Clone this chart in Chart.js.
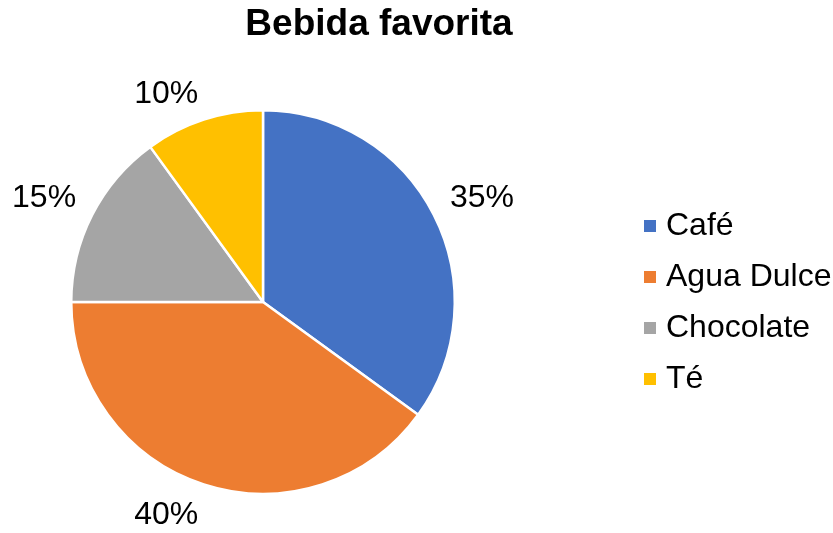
<!DOCTYPE html>
<html>
<head>
<meta charset="utf-8">
<script src="https://cdn.jsdelivr.net/npm/chart.js@4"></script>
<style>
  html, body { margin: 0; padding: 0; background: #fff; }
  #wrap { width: 833px; height: 533px; }
</style>
</head>
<body>
<div id="wrap"><canvas id="c"></canvas></div>
<script>
const chartTitle = "Bebida favorita";
const categories = ["Café", "Agua Dulce", "Chocolate", "Té"];
const values = [35, 40, 15, 10];
const colors = ["#4472C4", "#ED7D31", "#A5A5A5", "#FFC000"];

const FONT = "'Liberation Sans', Arial, sans-serif";

// title, outside labels and legend
const extras = {
  id: "extras",
  afterDraw(chart) {
    const ctx = chart.ctx;
    const meta = chart.getDatasetMeta(0);
    const total = values.reduce((a, b) => a + b, 0);
    ctx.save();
    ctx.fillStyle = "#000";
    ctx.textBaseline = "alphabetic";

    ctx.font = "bold 37px " + FONT;
    ctx.textAlign = "center";
    ctx.fillText(chartTitle, 379, 35);

    // percent labels just outside each slice
    ctx.font = "32px " + FONT;
    const capH = 23;
    meta.data.forEach((arc, i) => {
      const mid = (arc.startAngle + arc.endAngle) / 2;
      const d = arc.outerRadius + 18;
      const ex = arc.x + Math.cos(mid) * d;
      const ey = arc.y + Math.sin(mid) * d;
      const txt = Math.round(values[i] / total * 100) + "%";
      ctx.textAlign = Math.cos(mid) >= 0 ? "left" : "right";
      ctx.fillText(txt, ex, Math.sin(mid) >= 0 ? ey + capH : ey);
    });

    // legend
    ctx.textAlign = "left";
    categories.forEach((name, i) => {
      const base = 235 + i * 51;
      ctx.fillStyle = colors[i];
      ctx.fillRect(644, base - 15, 12, 12);
      ctx.fillStyle = "#000";
      ctx.fillText(name, 666, base);
    });
    ctx.restore();
  },
};

new Chart(document.getElementById("c"), {
  type: "pie",
  data: {
    labels: categories,
    datasets: [{
      data: values,
      backgroundColor: colors,
      borderColor: "#fff",
      borderWidth: 2.5,
    }],
  },
  options: {
    responsive: true,
    maintainAspectRatio: false,
    animation: false,
    layout: { padding: { top: 109, bottom: 38, left: 70, right: 377 } },
    plugins: {
      legend: { display: false },
      tooltip: { enabled: false },
      title: { display: false },
    },
  },
  plugins: [extras],
});
</script>
</body>
</html>
